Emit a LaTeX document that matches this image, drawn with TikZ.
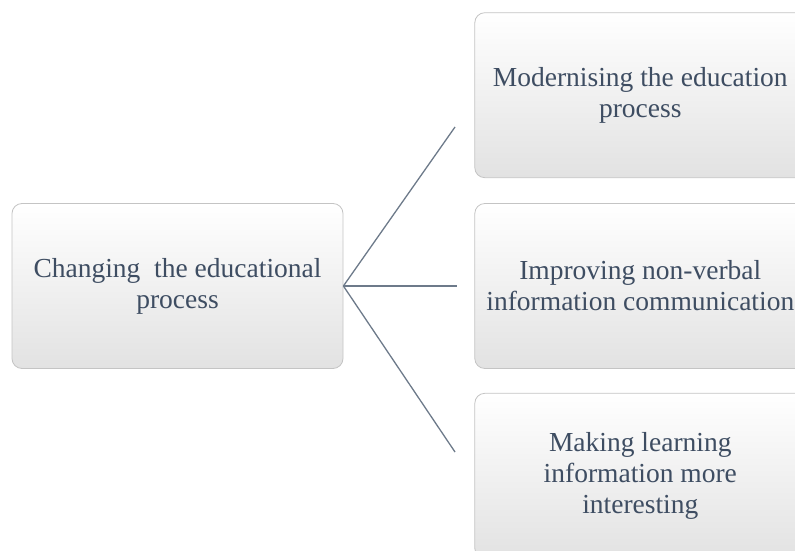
\documentclass[tikz,border=0pt]{standalone}
\usepackage{fontspec}
\setmainfont{Liberation Serif}
\usetikzlibrary{positioning}
\definecolor{textslate}{HTML}{3E4D62}
\definecolor{linkgray}{HTML}{6D7A8A}
\definecolor{edgegray}{HTML}{C4C4C4}
\definecolor{shadegray}{HTML}{E2E2E2}

\begin{document}
\begin{tikzpicture}[x=1pt,y=-1pt,
    box/.style={rectangle,draw=edgegray,line width=0.8pt,rounded corners=10pt,
      minimum width=331pt,minimum height=165pt,inner sep=0pt,align=center,
      top color=white,middle color=white,bottom color=shadegray,
      text=textslate,font=\fontsize{27.5}{31}\selectfont},
    link/.style={linkgray,line width=1.3pt}]

  \path[use as bounding box,clip] (0,0) rectangle (795,551);

  \node[box] (change) at (177.5,286) {Changing~ the educational\\process};
  \node[box,right=131pt of change] (nonverbal) {Improving non-verbal\\information communication};
  \node[box,above=25pt of nonverbal] (modern) {Modernising the education\\process};
  \node[box,below=24pt of nonverbal] (interest) {Making learning\\information more\\interesting};

  % free ends of the fan
  \coordinate (topend) at (455,127);
  \coordinate (midend) at (457,286);
  \coordinate (lowend) at (455,452);

  \draw[link] (change.east) -- (topend);
  \draw[link] (change.east) -- (midend);
  \draw[link] (change.east) -- (lowend);
\end{tikzpicture}
\end{document}
